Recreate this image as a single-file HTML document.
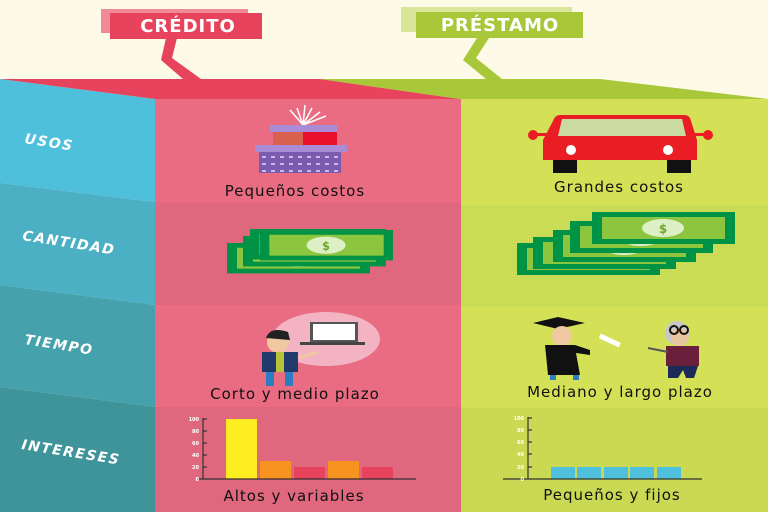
<!DOCTYPE html>
<html><head><meta charset="utf-8"><style>
html,body{margin:0;padding:0;background:#fdfbe7;}
svg{display:block;}
text{font-family:"DejaVu Sans","Liberation Sans",sans-serif;}
</style></head><body>
<svg width="768" height="512" viewBox="0 0 768 512" xmlns="http://www.w3.org/2000/svg">
<defs>
<g id="bill">
<rect x="0" y="0" width="143" height="32" fill="#009245"/>
<rect x="10" y="5" width="123" height="22" fill="#8cc63f"/>
<ellipse cx="71" cy="16" rx="21" ry="9" fill="#dcefc5"/>
<text x="71" y="21" font-size="12" font-weight="bold" fill="#6aa82c" text-anchor="middle">$</text>
</g>
<pattern id="dots" width="9" height="7" patternUnits="userSpaceOnUse"><rect width="9" height="7" fill="#7b5bb0"/><rect x="1" y="2" width="4" height="2" fill="#c9b8ea"/></pattern>
</defs>
<rect width="768" height="512" fill="#fdfbe7"/>
<polygon points="0,79 155,99 155,202 0,183" fill="#4fc0dc"/>
<polygon points="0,183 155,202 155,305 0,285" fill="#4bb0c4"/>
<polygon points="0,285 155,305 155,407 0,387" fill="#45a1ab"/>
<polygon points="0,387 155,407 155,512 0,512" fill="#3e9499"/>
<rect x="155" y="99" width="306" height="103" fill="#e96c82"/>
<rect x="155" y="202" width="306" height="103" fill="#df687f"/>
<rect x="155" y="305" width="306" height="102" fill="#e96c82"/>
<rect x="155" y="407" width="306" height="105" fill="#df687f"/>
<rect x="461" y="99" width="307" height="107" fill="#d4e157"/>
<rect x="461" y="206" width="307" height="101" fill="#cadb55"/>
<rect x="461" y="307" width="307" height="101" fill="#d4e157"/>
<rect x="461" y="408" width="307" height="104" fill="#c9d953"/>
<polygon points="0,79 320,79 460,99 155,99" fill="#e8435c"/>
<polygon points="320,79 600,79 768,99 460,99" fill="#a8c83a"/>
<rect x="101" y="9" width="147" height="24" fill="#f08a96"/>
<rect x="110" y="13" width="152" height="26" fill="#e8435c"/>
<polygon points="166,38 177,38 172,58 201,79 183,79 161,60" fill="#e8435c"/>
<text x="188" y="32" font-size="18" font-weight="bold" fill="#fff" text-anchor="middle" letter-spacing="1">CRÉDITO</text>
<rect x="401" y="7" width="171" height="25" fill="#d8e69a"/>
<rect x="416" y="12" width="167" height="26" fill="#a8c83a"/>
<polygon points="477,38 489,38 476,58 502,79 486,79 463,60" fill="#a8c83a"/>
<text x="500" y="31" font-size="18" font-weight="bold" fill="#fff" text-anchor="middle" letter-spacing="1">PRÉSTAMO</text>
<g font-size="14" font-weight="bold" font-style="italic" fill="#fff" letter-spacing="1.5">
<text transform="translate(24,143) rotate(9)">USOS</text>
<text transform="translate(22,240) rotate(9)">CANTIDAD</text>
<text transform="translate(24,344) rotate(9)">TIEMPO</text>
<text transform="translate(21,449) rotate(9)">INTERESES</text>
</g>
<g stroke="#fff" stroke-width="1.5" fill="none">
<path d="M303 125 L290 110 M303 125 L297 108 M303 125 L305 105 M303 125 L312 108 M303 125 L320 112 M303 125 L326 116"/>
</g>
<rect x="270" y="125" width="67" height="7" fill="#a98bd6"/>
<rect x="273" y="132" width="30" height="15" fill="#d9604f"/>
<rect x="303" y="132" width="34" height="15" fill="#e8102a"/>
<rect x="255" y="145" width="92" height="7" fill="#a98bd6"/>
<rect x="259" y="152" width="82" height="21" fill="url(#dots)"/>
<circle cx="533" cy="135" r="5" fill="#ea1c24"/><circle cx="708" cy="135" r="5" fill="#ea1c24"/>
<rect x="536" y="133" width="12" height="3" fill="#ea1c24"/><rect x="694" y="133" width="12" height="3" fill="#ea1c24"/>
<rect x="553" y="158" width="24" height="15" fill="#111"/><rect x="667" y="158" width="24" height="15" fill="#111"/>
<path d="M560 115 L684 115 Q690 115 691 121 L697 140 L697 160 L543 160 L543 140 L553 121 Q555 115 560 115Z" fill="#ea1c24"/>
<polygon points="562,119 682,119 686,136 558,136" fill="#c9dba0"/>
<circle cx="571" cy="150" r="5" fill="#fff"/><circle cx="668" cy="150" r="5" fill="#fff"/>
<use href="#bill" transform="translate(227,243) scale(1,0.95)"/>
<use href="#bill" transform="translate(243,236) scale(1,0.95)"/>
<use href="#bill" transform="translate(250,229) scale(0.95,0.95)"/>
<use href="#bill" transform="translate(260,230) scale(0.93,0.95)"/>
<use href="#bill" transform="translate(517,243)"/>
<use href="#bill" transform="translate(533,237)"/>
<use href="#bill" transform="translate(553,230)"/>
<use href="#bill" transform="translate(570,221)"/>
<use href="#bill" transform="translate(592,212)"/>
<ellipse cx="326" cy="339" rx="54" ry="27" fill="#f3b3c3"/>
<rect x="310" y="322" width="48" height="20" fill="#555"/><rect x="313" y="324" width="42" height="16" fill="#fff"/>
<rect x="300" y="342" width="65" height="3" fill="#444"/>
<circle cx="278" cy="342" r="11" fill="#f0c9a0"/>
<path d="M266 338 Q270 326 288 332 L290 340 Z" fill="#222"/>
<rect x="262" y="352" width="36" height="20" fill="#1f3a6b"/>
<rect x="276" y="352" width="8" height="20" fill="#b8c23a"/>
<line x1="298" y1="358" x2="318" y2="352" stroke="#f0c9a0" stroke-width="3"/>
<rect x="266" y="372" width="8" height="14" fill="#2b7fc1"/><rect x="285" y="372" width="8" height="14" fill="#2b7fc1"/>
<polygon points="533,323 558,317 585,323 558,329" fill="#111"/>
<circle cx="562" cy="336" r="10" fill="#f0c9a0"/>
<path d="M545 345 L575 345 L590 350 L590 355 L576 353 L580 375 L548 375 Z" fill="#111"/>
<rect x="599" y="338" width="22" height="5" fill="#fff" transform="rotate(25 610 340)"/>
<rect x="550" y="375" width="6" height="5" fill="#2b7fc1"/><rect x="573" y="375" width="6" height="5" fill="#2b7fc1"/>
<circle cx="677" cy="333" r="12" fill="#c8c8c8"/>
<circle cx="680" cy="337" r="9" fill="#e8c4a0"/>
<circle cx="674" cy="330" r="4" fill="none" stroke="#111" stroke-width="2"/><circle cx="684" cy="330" r="4" fill="none" stroke="#111" stroke-width="2"/>
<rect x="666" y="346" width="33" height="20" fill="#6a1f3a"/>
<line x1="648" y1="348" x2="668" y2="352" stroke="#555" stroke-width="2"/>
<path d="M668 366 L698 366 L694 378 L686 378 L683 370 L678 378 L668 378 Z" fill="#1c2a5a"/>
<g font-size="15" fill="#111" text-anchor="middle" letter-spacing="1">
<text x="295" y="196">Pequeños costos</text>
<text x="619" y="192">Grandes costos</text>
<text x="295" y="399">Corto y medio plazo</text>
<text x="620" y="397">Mediano y largo plazo</text>
<text x="294" y="501">Altos y variables</text>
<text x="612" y="500">Pequeños y fijos</text>
</g>
<rect x="226" y="419" width="31" height="60" fill="#fcee21"/>
<rect x="260" y="461" width="31" height="18" fill="#f7931e"/>
<rect x="294" y="467" width="31" height="12" fill="#e8435c"/>
<rect x="328" y="461" width="31" height="18" fill="#f7931e"/>
<rect x="362" y="467" width="31" height="12" fill="#e8435c"/>
<g stroke="#333" stroke-width="1.2">
<line x1="203" y1="418" x2="203" y2="479"/><line x1="198" y1="479" x2="416" y2="479"/>
<line x1="203" y1="419" x2="207" y2="419"/><line x1="203" y1="431" x2="207" y2="431"/><line x1="203" y1="443" x2="207" y2="443"/><line x1="203" y1="455" x2="207" y2="455"/><line x1="203" y1="467" x2="207" y2="467"/>
</g>
<g font-size="5" fill="#fff" font-weight="bold" text-anchor="end">
<text x="199" y="421">100</text><text x="199" y="433">80</text><text x="199" y="445">60</text><text x="199" y="457">40</text><text x="199" y="469">20</text><text x="199" y="481">0</text>
</g>
<rect x="551" y="467" width="24" height="12" fill="#4fc0dc"/>
<rect x="577" y="467" width="24" height="12" fill="#4fc0dc"/>
<rect x="604" y="467" width="24" height="12" fill="#4fc0dc"/>
<rect x="630" y="467" width="24" height="12" fill="#4fc0dc"/>
<rect x="657" y="467" width="24" height="12" fill="#4fc0dc"/>
<g stroke="#333" stroke-width="1.2">
<line x1="528" y1="417" x2="528" y2="479"/><line x1="503" y1="479" x2="702" y2="479"/>
<line x1="528" y1="418" x2="532" y2="418"/><line x1="528" y1="430" x2="532" y2="430"/><line x1="528" y1="442" x2="532" y2="442"/><line x1="528" y1="454" x2="532" y2="454"/><line x1="528" y1="467" x2="532" y2="467"/>
</g>
<g font-size="5" fill="#fff" font-weight="bold" text-anchor="end">
<text x="524" y="420">100</text><text x="524" y="432">80</text><text x="524" y="444">60</text><text x="524" y="456">40</text><text x="524" y="469">20</text><text x="524" y="481">0</text>
</g>
</svg>
</body></html>
